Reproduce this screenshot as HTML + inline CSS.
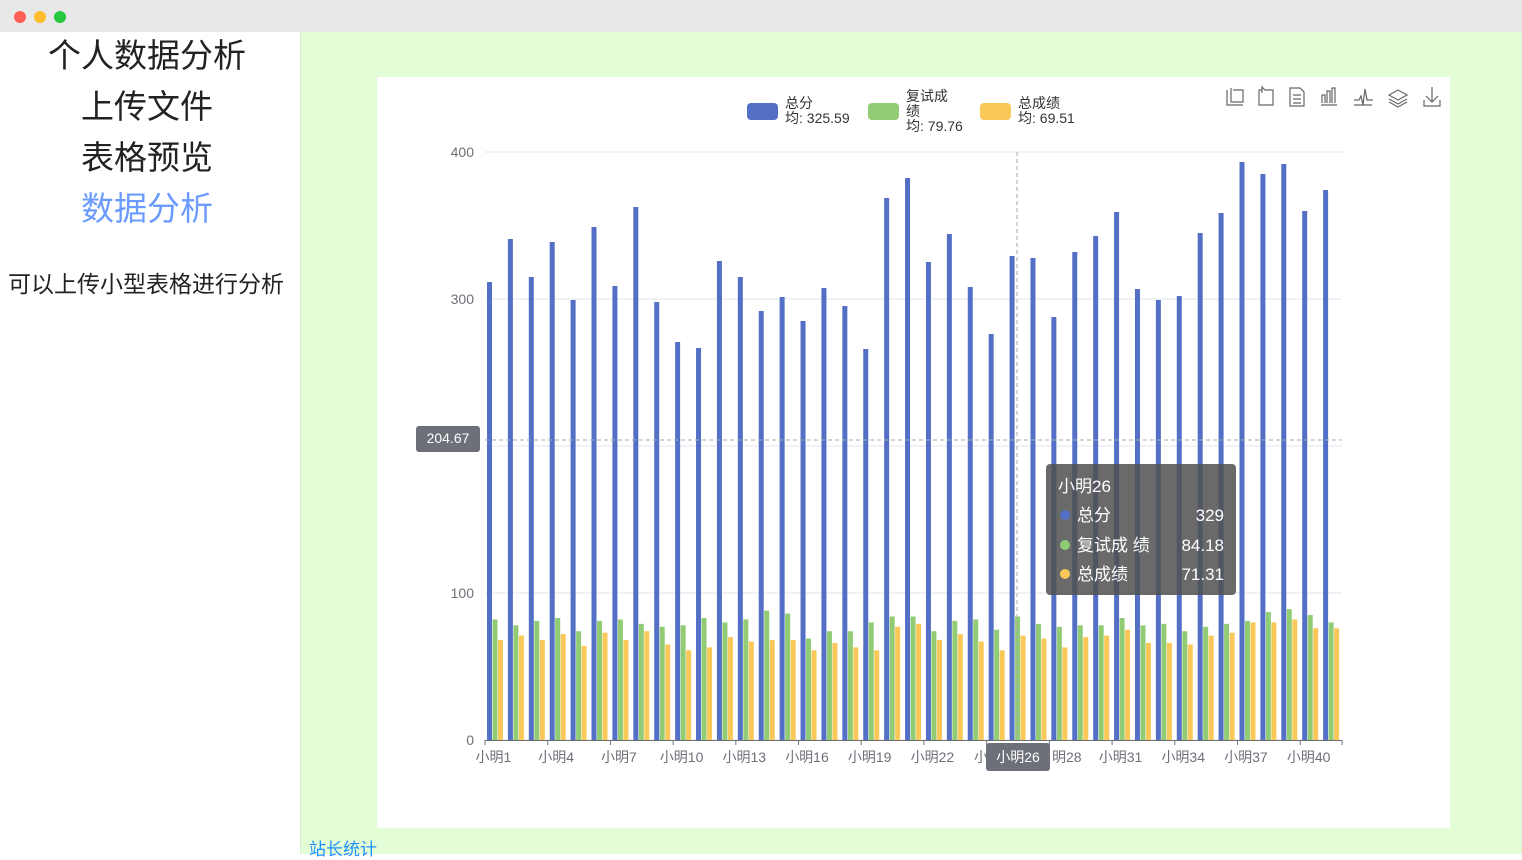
<!DOCTYPE html>
<html><head><meta charset="utf-8"><style>
body{margin:0;width:1522px;height:854px;overflow:hidden;font-family:"Liberation Sans","Noto Sans CJK SC",sans-serif;background:#fff;position:relative}
.top{position:absolute;left:0;top:0;width:1522px;height:32px;background:#e8e8e8}
.dot{position:absolute;top:11px;width:12px;height:12px;border-radius:50%}
.left{position:absolute;left:0;top:32px;width:294px;height:822px;background:#fff;text-align:center}
.left div{font-size:33px;color:#222;line-height:51px}
.right{position:absolute;left:300px;top:32px;width:1222px;height:822px;background:#e3fdd6;border-left:1px solid #d8eccf}
.card{position:absolute;left:377px;top:77px;width:1073px;height:751px;background:#fff}
svg{position:absolute;left:0;top:0}
</style></head><body>
<div class="top"><div class="dot" style="left:14px;background:#fe5f57"></div><div class="dot" style="left:34px;background:#febc2e"></div><div class="dot" style="left:54px;background:#28c840"></div></div>
<div class="left">
<div style="margin-top:-2px">个人数据分析</div><div>上传文件</div><div>表格预览</div><div style="color:#6b9bff">数据分析</div>
<div style="font-size:23px;margin-top:35px;line-height:30px;text-align:left;padding-left:8px;white-space:nowrap">可以上传小型表格进行分析</div>
</div>
<div class="right"><div style="position:absolute;left:8px;top:803px;color:#1e90ff;font-size:17px">站长统计</div></div>
<div class="card"></div>
<svg id="s" width="1522" height="854" font-family="Liberation Sans, Noto Sans CJK SC, sans-serif"></svg>
<script>
const B=[282,239,277,242,300,227,286,207,302,342,348,261,277,311,297,321,288,306,349,198,178,262,234,287,334,256,258,317,252,236,212,289,300,296,233,213,162,174,164,211,190];
const G=[82,78,81,83,74,81,82,79,77,78,83,80,82,88,86,69,74,74,80,84,84,74,81,82,75,84,79,77,78,78,83,78,79,74,77,79,81,87,89,85,80];
const Y=[68,71,68,72,64,73,68,74,65,61,63,70,67,68,68,61,66,63,61,77,79,68,72,67,61,71,69,63,70,71,75,66,66,65,71,73,80,80,82,76,76];
let s='';
const y0=740,k=1.47;
[0,100,200,300,400].forEach(v=>{const y=y0-v*k;s+=`<line x1="485" x2="1342" y1="${y}" y2="${y}" stroke="#e0e6f1"/><text x="474" y="${y+5}" font-size="14" fill="#6e7079" text-anchor="end">${v}</text>`});
const w=857/41;
for(let i=0;i<41;i++){const x=485+i*w+2;
s+=`<rect x="${x}" y="${B[i]}" width="5" height="${y0-B[i]}" fill="#5470c6"/>`;
s+=`<rect x="${x+5.5}" y="${y0-G[i]*k}" width="5" height="${G[i]*k}" fill="#91cc75"/>`;
s+=`<rect x="${x+11}" y="${y0-Y[i]*k}" width="5" height="${Y[i]*k}" fill="#fac858"/>`;}
s+=`<line x1="485" x2="1342" y1="740.5" y2="740.5" stroke="#6e7079"/>`;
for(let i=0;i<=41;i+=3){const x=485+i*w;s+=`<line x1="${x}" x2="${x}" y1="740" y2="745" stroke="#6e7079"/>`;}
s+=`<line x1="1342" x2="1342" y1="740" y2="745" stroke="#6e7079"/>`;
for(let i=0;i<41;i+=3){if(i==24||i==27)continue;const x=485+i*w+w/2-2;s+=`<text x="${x}" y="762" font-size="14" fill="#6e7079" text-anchor="middle">小明${i+1}</text>`}
s+=`<text x="1052" y="762" font-size="14" fill="#6e7079">明28</text>`;
s+=`<line x1="1017" x2="1017" y1="152" y2="740" stroke="#aaa" stroke-dasharray="4,3"/><line x1="485" x2="1342" y1="440" y2="440" stroke="#aaa" stroke-dasharray="4,3"/>`;
s+=`<rect x="416" y="426" width="64" height="26" rx="3" fill="#6e7079"/><text x="448" y="443" font-size="14" fill="#fff" text-anchor="middle">204.67</text>`;
s+=`<text x="974" y="762" font-size="14" fill="#6e7079">小</text><rect x="986" y="743" width="64" height="28" rx="3" fill="#6e7079"/><text x="1018" y="762" font-size="14" fill="#fff" text-anchor="middle">小明26</text>`;
s+=`<rect x="1046" y="464" width="190" height="131" rx="4" fill="rgba(80,80,80,0.85)"/>`;
s+=`<text x="1058" y="492" font-size="17" fill="#fff">小明26</text>`;
[["#5470c6","总分","329",521],["#91cc75","复试成 绩","84.18",551],["#fac858","总成绩","71.31",580]].forEach(r=>{s+=`<circle cx="1065" cy="${r[3]-6}" r="5" fill="${r[0]}"/><text x="1077" y="${r[3]}" font-size="17" fill="#fff">${r[1]}</text><text x="1224" y="${r[3]}" font-size="17" fill="#fff" text-anchor="end">${r[2]}</text>`});
[["#5470c6",747,"总分","均: 325.59",785],["#91cc75",868,"复试成|绩","均: 79.76",906],["#fac858",980,"总成绩","均: 69.51",1018]].forEach((l,j)=>{s+=`<rect x="${l[1]}" y="103" width="31" height="17" rx="4" fill="${l[0]}"/>`;
if(j==1){s+=`<text x="906" y="101" font-size="14" fill="#333">复试成</text><text x="906" y="116" font-size="14" fill="#333">绩</text><text x="906" y="131" font-size="14" fill="#333">均: 79.76</text>`}
else{s+=`<text x="${l[4]}" y="108" font-size="14" fill="#333">${l[2]}</text><text x="${l[4]}" y="123" font-size="14" fill="#333">${l[3]}</text>`}});
const st='fill="none" stroke="#666" stroke-width="1.2"';
s+=`<path d="M1227 90v15h16M1231 88v14h12v-12h-10" ${st}/>`;
s+=`<path d="M1262 90h-3v15h14v-15h-8l-3 -3v6" ${st}/>`;
s+=`<path d="M1290 88h10l4 4v14h-14zM1293 95h8M1293 99h8M1293 103h8" ${st}/>`;
s+=`<path d="M1321 105h16M1322 103v-8h3v8M1327 103v-12h3v12M1332 103v-15h3v15" ${st}/>`;
s+=`<path d="M1354 100h5l2-4 2 9 2-16 2 11h6M1354 105h18" ${st}/>`;
s+=`<path d="M1389 95l9-5 9 5-9 5zM1389 99l9 5 9-5M1389 102l9 5 9-5" ${st}/>`;
s+=`<path d="M1432 87v15M1426 96l6 6 6-6M1424 100v6h16v-6" ${st}/>`;
document.getElementById('s').innerHTML=s;
</script>
</body></html>
